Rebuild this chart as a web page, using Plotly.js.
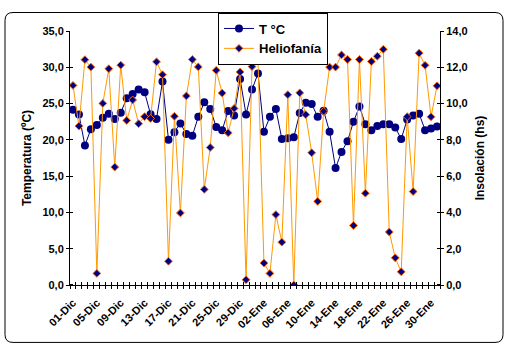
<!DOCTYPE html>
<html><head><meta charset="utf-8">
<script src="https://cdn.plot.ly/plotly-3.0.1.min.js"></script>
<style>html,body{margin:0;padding:0;background:#fff;}</style>
</head><body>
<div id="chart" style="width:509px;height:351px;"></div>
<script>
var dates = ['01-Dic','02-Dic','03-Dic','04-Dic','05-Dic','06-Dic','07-Dic','08-Dic','09-Dic','10-Dic',
 '11-Dic','12-Dic','13-Dic','14-Dic','15-Dic','16-Dic','17-Dic','18-Dic','19-Dic','20-Dic',
 '21-Dic','22-Dic','23-Dic','24-Dic','25-Dic','26-Dic','27-Dic','28-Dic','29-Dic','30-Dic','31-Dic',
 '01-Ene','02-Ene','03-Ene','04-Ene','05-Ene','06-Ene','07-Ene','08-Ene','09-Ene','10-Ene',
 '11-Ene','12-Ene','13-Ene','14-Ene','15-Ene','16-Ene','17-Ene','18-Ene','19-Ene','20-Ene',
 '21-Ene','22-Ene','23-Ene','24-Ene','25-Ene','26-Ene','27-Ene','28-Ene','29-Ene','30-Ene','31-Ene'];

var temperatura = [24.14,23.48,19.23,21.47,22.04,23.03,23.61,22.89,23.73,25.72,
 26.31,26.94,26.56,23.52,22.89,28.03,20.0,21.06,22.27,20.8,
 20.57,23.17,25.17,24.26,21.78,21.34,23.98,23.37,28.39,23.51,26.94,
 29.14,21.13,23.17,24.24,20.13,20.22,20.36,23.7,25.12,24.95,
 23.17,24.01,21.11,16.11,18.33,19.82,22.5,24.58,22.14,21.34,
 21.9,22.14,22.14,21.7,20.13,22.79,23.34,23.61,21.34,21.56,21.83];

var heliofania = [11.0,8.76,12.42,12.01,0.64,10.01,11.92,6.5,12.12,9.07,
 10.2,8.89,9.28,9.18,12.3,11.59,1.31,9.3,3.97,10.42,
 12.43,12.02,5.27,7.58,11.83,10.58,8.39,9.73,11.74,0.29,12.04,
 12.43,1.21,0.64,3.88,2.36,10.49,0.0,10.59,9.39,7.29,
 4.61,9.58,12.01,12.01,12.68,12.43,3.28,12.43,5.06,12.32,
 12.61,12.99,2.92,1.5,0.73,9.28,5.15,12.78,12.11,9.27,10.98];

var labelStep = 4;
var tickLabels = dates.map(function(d, i){ return i % labelStep === 0 ? d : ''; });

var F = 'Arial, "Liberation Sans", sans-serif';

var traceT = {
  x: dates, y: temperatura, name: 'T °C', type: 'scatter', mode: 'lines+markers',
  xaxis: 'x', yaxis: 'y',
  line: {color: '#000080', width: 1},
  marker: {symbol: 'circle', size: 8, color: '#000080'}
};
var traceH = {
  x: dates, y: heliofania, name: 'Heliofanía', type: 'scatter', mode: 'lines+markers',
  xaxis: 'x2', yaxis: 'y2',
  line: {color: '#FF9900', width: 1},
  marker: {symbol: 'diamond', size: 6, color: '#000080', line: {color: '#FF6600', width: 1}}
};

// rounded chart border in paper coordinates
var L = 70, W = 370, T = 24, H = 261;
function px(v){ return (v - L) / W; }
function py(v){ return (T + H - v) / H; }
var x0 = px(5), x1 = px(503), y1 = py(5), y0 = py(344);
var rx = 8 / W, ry = 8 / H;
var path = 'M' + (x0+rx) + ',' + y1 + ' L' + (x1-rx) + ',' + y1 + ' Q' + x1 + ',' + y1 + ' ' + x1 + ',' + (y1-ry) +
  ' L' + x1 + ',' + (y0+ry) + ' Q' + x1 + ',' + y0 + ' ' + (x1-rx) + ',' + y0 +
  ' L' + (x0+rx) + ',' + y0 + ' Q' + x0 + ',' + y0 + ' ' + x0 + ',' + (y0+ry) +
  ' L' + x0 + ',' + (y1-ry) + ' Q' + x0 + ',' + y1 + ' ' + (x0+rx) + ',' + y1 + ' Z';

var tickFont = {family: F, size: 11, color: '#000', weight: 'bold'};
var titleFont = {family: F, size: 12, color: '#000', weight: 'bold'};

var layout = {
  width: 509, height: 351,
  margin: {l: L, r: 509 - L - W, t: T, b: 351 - T - H, pad: 0},
  paper_bgcolor: '#fff', plot_bgcolor: '#fff',
  separators: ',.',
  showlegend: true,
  legend: {x: px(218), xanchor: 'left', y: y1, yanchor: 'top', bgcolor: '#fff',
           bordercolor: '#000', borderwidth: 1, tracegroupgap: 0, itemwidth: 30,
           font: {family: F, size: 13, color: '#000', weight: 'bold'}},
  xaxis: {type: 'category', tickmode: 'array', tickvals: dates, ticktext: tickLabels,
          tickson: 'boundaries', ticks: 'outside', ticklen: 3, tickwidth: 1, tickcolor: '#000',
          showline: true, linecolor: '#000', linewidth: 1, showgrid: false, zeroline: false,
          tickangle: -45, tickfont: tickFont, ticklabelstandoff: 6,
          range: [-0.5, dates.length - 0.5], fixedrange: true},
  xaxis2: {type: 'category', overlaying: 'x', anchor: 'y2', side: 'bottom', tickmode: 'linear', dtick: 1,
           tickson: 'boundaries', ticks: 'inside', ticklen: 3, tickwidth: 1, tickcolor: '#000',
           showticklabels: false, showline: false, showgrid: false, zeroline: false,
           range: [-0.5, dates.length - 0.5]},
  yaxis: {range: [0, 35], tickmode: 'linear', tick0: 0, dtick: 5, tickformat: '.1f',
          ticks: 'outside', ticklen: 3, tickcolor: '#000',
          minor: {ticks: 'inside', ticklen: 3, tick0: 0.02, dtick: 5, tickcolor: '#000', showgrid: false},
          showline: true, linecolor: '#000', showgrid: false, zeroline: false, tickfont: tickFont,
          title: {text: 'Temperatura (ºC)', font: titleFont, standoff: 8}},
  yaxis2: {overlaying: 'y', side: 'right', anchor: 'x2', range: [0, 14], tickmode: 'linear', tick0: 0, dtick: 2,
           tickformat: '.1f', ticks: 'outside', ticklen: 3, tickcolor: '#000',
           minor: {ticks: 'inside', ticklen: 3, tick0: 0.008, dtick: 2, tickcolor: '#000', showgrid: false},
           showline: true, linecolor: '#000', showgrid: false, zeroline: false, tickfont: tickFont,
           title: {text: 'Insolación (hs)', font: titleFont, standoff: 8}},
  shapes: [{type: 'path', xref: 'paper', yref: 'paper', path: path, line: {color: '#000', width: 1}, layer: 'below'}]
};

Plotly.newPlot('chart', [traceT, traceH], layout, {displayModeBar: false, staticPlot: true});
</script>
</body></html>
